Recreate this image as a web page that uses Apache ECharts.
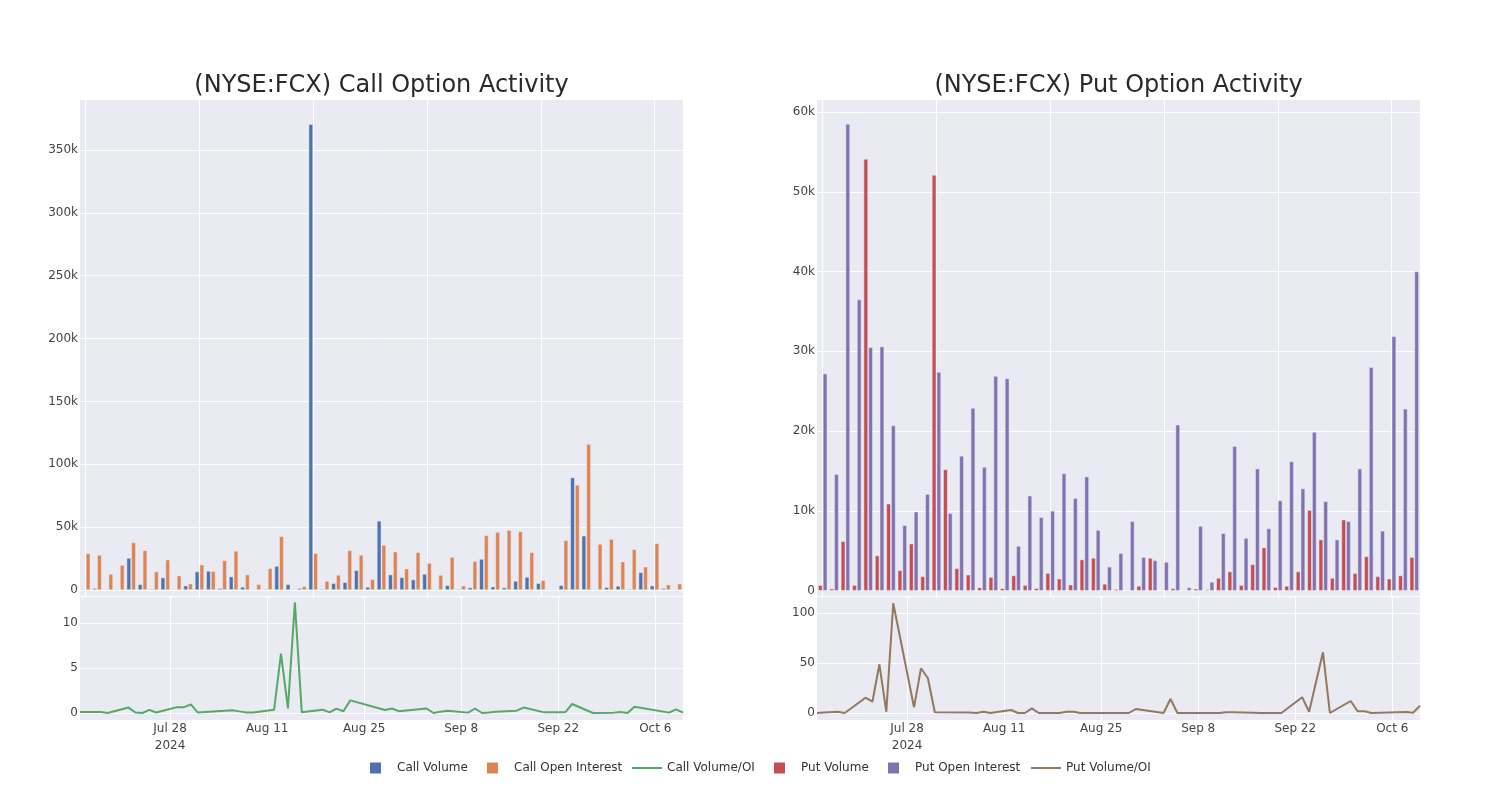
<!DOCTYPE html>
<html>
<head>
<meta charset="utf-8">
<title>(NYSE:FCX) Option Activity</title>
<script src="https://cdn.jsdelivr.net/npm/echarts@6/dist/echarts.min.js"></script>
<style>
  html, body { margin: 0; padding: 0; background: #fff; }
  #main { width: 1500px; height: 800px; }
</style>
</head>
<body>
<div id="main"></div>
<script>
// trading days shown in the chart
const dates = [
  '2024-07-15', '2024-07-16', '2024-07-18', '2024-07-19', '2024-07-22', '2024-07-23', '2024-07-24',
  '2024-07-25', '2024-07-26', '2024-07-29', '2024-07-30', '2024-07-31', '2024-08-01', '2024-08-06',
  '2024-08-07', '2024-08-08', '2024-08-09', '2024-08-12', '2024-08-13', '2024-08-14', '2024-08-15',
  '2024-08-16', '2024-08-19', '2024-08-20', '2024-08-21', '2024-08-22', '2024-08-23', '2024-08-28',
  '2024-08-29', '2024-08-30', '2024-09-03', '2024-09-04', '2024-09-05', '2024-09-06', '2024-09-09',
  '2024-09-10', '2024-09-11', '2024-09-12', '2024-09-13', '2024-09-16', '2024-09-17', '2024-09-20',
  '2024-09-23', '2024-09-24', '2024-09-26', '2024-09-27', '2024-09-30', '2024-10-01', '2024-10-02',
  '2024-10-03', '2024-10-08', '2024-10-09', '2024-10-10'
];

const callVolume = [
  500, 1300, 500, 200, 25400, 4500, 800, 9800, 500, 3400, 14600, 15100, 1300, 10600,
  2400, 200, 800, 19000, 4500, 1300, 370500, 800, 5300, 6100, 15600, 2400, 55000, 12200,
  10000, 8200, 12700, 200, 3700, 800, 1900, 24600, 2600, 1900, 7100, 10300, 5300, 100,
  3700, 89400, 43100, 300, 2100, 3200, 800, 14000, 3400, 1300, 200
];
const callOpenInterest = [
  29100, 27800, 12700, 19800, 37800, 31500, 14600, 24100, 11400, 5000, 20100, 14800, 23500, 31000,
  12200, 4500, 17200, 42600, 700, 2900, 29100, 7100, 11900, 31500, 27800, 8500, 35700, 30400,
  16900, 29900, 21400, 11900, 26200, 3400, 22800, 43400, 46000, 47600, 46600, 29900, 7700, 300,
  39400, 83600, 116100, 36500, 40500, 22500, 32300, 18500, 37000, 4200, 5000
];
const callRatio = [
  0.1, 0.1, 0.1, 0.0, 0.6, 0.05, 0.0, 0.35, 0.05, 0.65, 0.65, 0.95, 0.05, 0.3,
  0.18, 0.05, 0.05, 0.35, 6.6, 0.5, 12.3, 0.07, 0.37, 0.07, 0.48, 0.2, 1.4, 0.33,
  0.5, 0.2, 0.5, 0.0, 0.15, 0.26, 0.04, 0.5, 0.0, 0.05, 0.15, 0.26, 0.6, 0.07,
  0.07, 1.0, 0.33, 0.0, 0.04, 0.1, 0.0, 0.7, 0.04, 0.4, 0.04
];

const putVolume = [
  700, 250, 6200, 700, 54100, 4400, 10900, 2550, 5900, 1800, 52100, 15200, 2800, 2000,
  400, 1700, 300, 1900, 700, 300, 2200, 1500, 750, 3900, 4100, 850, 200, 50,
  600, 4100, 50, 300, 50, 250, 150, 1600, 2400, 700, 3300, 5400, 450, 600,
  2400, 10100, 6400, 1600, 8900, 2200, 4300, 1800, 1500, 1900, 4200
];
const putOpenInterest = [
  27200, 14600, 58500, 36500, 30500, 30600, 20700, 8200, 9900, 12100, 27400, 9700, 16900, 22900,
  15500, 26900, 26600, 5600, 11900, 9200, 10000, 14700, 11600, 14300, 7600, 3000, 4700, 8700,
  4200, 3800, 3600, 20800, 400, 8100, 1100, 7200, 18100, 6600, 15300, 7800, 11300, 16200,
  12800, 19900, 11200, 6400, 8700, 15300, 28000, 7500, 31900, 22800, 40000
];
const putRatio = [
  0, 0.5, 1.3, 0, 15.3, 11.3, 48.7, 1.3, 109.7, 5.7, 44.7, 34.7, 0.7, 0.5,
  0, 1.3, 0, 3, 0, 0, 4.7, 0, 0, 1.3, 1.3, 0, 0, 0,
  0, 4, 0, 14, 0, 0, 0, 0, 0, 0.7, 0.7, 0.3, 0, 0,
  15.7, 1.3, 60.7, 0, 12, 1.7, 1.7, 0, 1, 0.3, 7.3
];

// tick labels
const dateTicks = ['2024-07-28', '2024-08-11', '2024-08-25', '2024-09-08', '2024-09-22', '2024-10-06'];
const callBarTicks = [0, 50000, 100000, 150000, 200000, 250000, 300000, 350000];
const callRatioTicks = [0, 5, 10];
const putBarTicks = [0, 10000, 20000, 30000, 40000, 50000, 60000];
const putRatioTicks = [0, 50, 100];

const months = ['Jan', 'Feb', 'Mar', 'Apr', 'May', 'Jun', 'Jul', 'Aug', 'Sep', 'Oct', 'Nov', 'Dec'];
const toTime = s => new Date(s + 'T00:00:00').getTime();
const tickTimes = dateTicks.map(toTime);
const tMin = toTime(dates[0]);
const tMax = toTime(dates[dates.length - 1]);

const font = "'DejaVu Sans', Verdana, sans-serif";
const gridBg = '#EAEAF2';
const splitWhite = { show: true, lineStyle: { color: '#ffffff', width: 1 } };
const labelStyle = { color: '#444', fontSize: 12, fontFamily: font };

function kFormat(v) {
  return v === 0 ? '0' : (v / 1000) + 'k';
}
function dateFormat(v) {
  const d = new Date(v);
  let s = months[d.getMonth()] + ' ' + d.getDate();
  if (v === tickTimes[0]) s += '\n' + d.getFullYear();
  return s;
}

function barX(grid) {
  return {
    gridIndex: grid,
    type: 'category',
    data: dates,
    axisLabel: { show: false },
    axisTick: { show: false },
    axisLine: { show: false, onZero: false },
    splitLine: { show: true, interval: 9, alignWithLabel: true, lineStyle: { color: '#ffffff', width: 1 } }
  };
}
// dates as plain millisecond values, ticks placed on the date labels
function dateX(grid) {
  return {
    gridIndex: grid,
    type: 'value',
    min: tMin,
    max: tMax,
    axisLine: { show: false, onZero: false },
    axisTick: { show: false, customValues: tickTimes },
    axisLabel: Object.assign({ customValues: tickTimes, formatter: dateFormat, margin: 0, lineHeight: 17 }, labelStyle),
    splitLine: splitWhite
  };
}
function valueY(grid, min, max, ticks, fmt) {
  const axis = {
    gridIndex: grid,
    type: 'value',
    min: min,
    max: max,
    axisLine: { show: false, onZero: false },
    axisTick: { show: false, customValues: ticks },
    axisLabel: Object.assign({ customValues: ticks, margin: 2 }, labelStyle),
    splitLine: splitWhite
  };
  if (fmt) axis.axisLabel.formatter = fmt;
  return axis;
}

function legendItem(name, left, square) {
  return {
    data: [name],
    left: left,
    top: 762,
    padding: 0,
    icon: 'rect',
    itemWidth: square ? 11 : 30,
    itemHeight: square ? 11 : 2,
    itemStyle: { borderWidth: 0 },
    textStyle: { color: '#333', fontSize: 12, fontFamily: font, padding: square ? [0, 0, 0, 11] : 0 }
  };
}

const myChart = echarts.init(document.getElementById('main'));

const option = {
  animation: false,
  backgroundColor: '#ffffff',
  title: [{
    text: '(NYSE:FCX) Call Option Activity',
    left: 381.5,
    top: 74,
    padding: 0,
    textAlign: 'center',
    textStyle: { color: '#2a2a2a', fontSize: 24, fontWeight: 'normal', fontFamily: font }
  }, {
    text: '(NYSE:FCX) Put Option Activity',
    left: 1118.5,
    top: 74,
    padding: 0,
    textAlign: 'center',
    textStyle: { color: '#2a2a2a', fontSize: 24, fontWeight: 'normal', fontFamily: font }
  }],
  legend: [
    legendItem('Call Volume', 370, true),
    legendItem('Call Open Interest', 487, true),
    legendItem('Call Volume/OI', 632, false),
    legendItem('Put Volume', 774, true),
    legendItem('Put Open Interest', 888, true),
    legendItem('Put Volume/OI', 1031, false)
  ],
  grid: [
    { left: 80, top: 100, width: 603, height: 496, show: true, backgroundColor: gridBg, borderWidth: 0, outerBoundsMode: 'none' },
    { left: 80, top: 597, width: 603, height: 123, show: true, backgroundColor: gridBg, borderWidth: 0, outerBoundsMode: 'none' },
    { left: 817, top: 100, width: 603, height: 496, show: true, backgroundColor: gridBg, borderWidth: 0, outerBoundsMode: 'none' },
    { left: 817, top: 597, width: 603, height: 123, show: true, backgroundColor: gridBg, borderWidth: 0, outerBoundsMode: 'none' }
  ],
  xAxis: [barX(0), dateX(1), barX(2), dateX(3)],
  yAxis: [
    valueY(0, -4800, 389800, callBarTicks, kFormat),
    valueY(1, -0.78, 12.9, callRatioTicks, null),
    valueY(2, -660, 61500, putBarTicks, kFormat),
    valueY(3, -7, 116, putRatioTicks, null)
  ],
  series: [{
    name: 'Call Volume',
    type: 'bar',
    xAxisIndex: 0,
    yAxisIndex: 0,
    barCategoryGap: '20%',
    barGap: '10%',
    itemStyle: { color: '#4C72B0', borderColor: gridBg, borderWidth: 0.5 },
    data: callVolume
  }, {
    name: 'Call Open Interest',
    type: 'bar',
    xAxisIndex: 0,
    yAxisIndex: 0,
    barCategoryGap: '20%',
    barGap: '10%',
    itemStyle: { color: '#DD8452', borderColor: gridBg, borderWidth: 0.5 },
    data: callOpenInterest
  }, {
    name: 'Call Volume/OI',
    type: 'line',
    xAxisIndex: 1,
    yAxisIndex: 1,
    showSymbol: false,
    symbol: 'none',
    color: '#55A868',
    lineStyle: { color: '#55A868', width: 2 },
    data: dates.map((s, i) => [toTime(s), callRatio[i]])
  }, {
    name: 'Put Volume',
    type: 'bar',
    xAxisIndex: 2,
    yAxisIndex: 2,
    barCategoryGap: '20%',
    barGap: '10%',
    itemStyle: { color: '#C44E52', borderColor: gridBg, borderWidth: 0.5 },
    data: putVolume
  }, {
    name: 'Put Open Interest',
    type: 'bar',
    xAxisIndex: 2,
    yAxisIndex: 2,
    barCategoryGap: '20%',
    barGap: '10%',
    itemStyle: { color: '#8172B3', borderColor: gridBg, borderWidth: 0.5 },
    data: putOpenInterest
  }, {
    name: 'Put Volume/OI',
    type: 'line',
    xAxisIndex: 3,
    yAxisIndex: 3,
    showSymbol: false,
    symbol: 'none',
    color: '#937860',
    lineStyle: { color: '#937860', width: 2 },
    data: dates.map((s, i) => [toTime(s), putRatio[i]])
  }]
};

myChart.setOption(option);
</script>
</body>
</html>
